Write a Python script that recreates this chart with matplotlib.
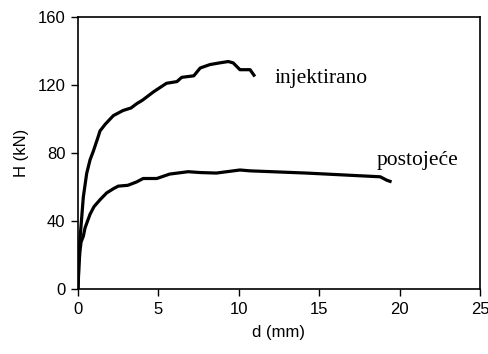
import numpy as np
import matplotlib
matplotlib.use('Agg')
import matplotlib.pyplot as plt

plt.rcParams.update({
    'font.family': 'Liberation Sans',
    'xtick.labelsize': 12,
    'ytick.labelsize': 12,
})

# injektirano
d_inj = [0.0, 0.05, 0.12, 0.23, 0.33, 0.54, 0.75, 0.95, 1.2, 1.37, 1.7, 2.2, 2.8, 3.3, 3.65, 4.0,
         4.7, 5.5, 6.15, 6.45, 7.2, 7.6, 8.2, 8.8, 9.35, 9.65, 10.07, 10.7, 11.0]
H_inj = [0.0, 15, 29, 42, 54, 68, 76, 81, 88, 93, 97, 102, 105, 106.5, 109, 111,
         116, 121, 122, 124.5, 125.4, 130, 132, 133, 133.8, 133, 129, 129, 125]

# postojece
d_pos = [0.0, 0.06, 0.12, 0.19, 0.33, 0.44, 0.75, 1.0, 1.37, 1.78, 2.2, 2.5, 3.1, 3.65,
         4.05, 4.9, 5.7, 6.85, 7.6, 8.6, 10.07, 10.7, 14.2, 18.8, 19.2, 19.5]
H_pos = [0.0, 14, 22, 27.6, 31, 36, 44, 48.5, 52.5, 56.5, 59, 60.5, 61, 63,
         65, 65, 67.6, 69, 68.5, 68.2, 70, 69.5, 68.2, 66, 64, 63]

fig = plt.figure(figsize=(4.89, 3.54), dpi=100)
ax = fig.add_axes([78/489, 1-289/354, 402/489, 272/354])

ax.plot(d_inj, H_inj, color='black', lw=2.3, solid_capstyle='butt')
ax.plot(d_pos, H_pos, color='black', lw=2.3, solid_capstyle='butt')

ax.set_xlim(0, 25)
ax.set_ylim(0, 160)
ax.set_xticks(np.arange(0, 26, 5))
ax.set_yticks(np.arange(0, 161, 40))
ax.tick_params(direction='out', length=5, width=1, pad=4)
for s in ax.spines.values():
    s.set_linewidth(1.2)

ax.set_xlabel('d (mm)', fontsize=12, labelpad=6)
ax.set_ylabel('H (kN)', fontsize=12, labelpad=6)

ax.text(12.25, 124, 'injektirano', family='Liberation Serif', fontsize=15.5, va='center')
ax.text(18.6, 75.5, 'postojeće', family='Liberation Serif', fontsize=15.5, va='center')

fig.savefig('out.png', dpi=100)
